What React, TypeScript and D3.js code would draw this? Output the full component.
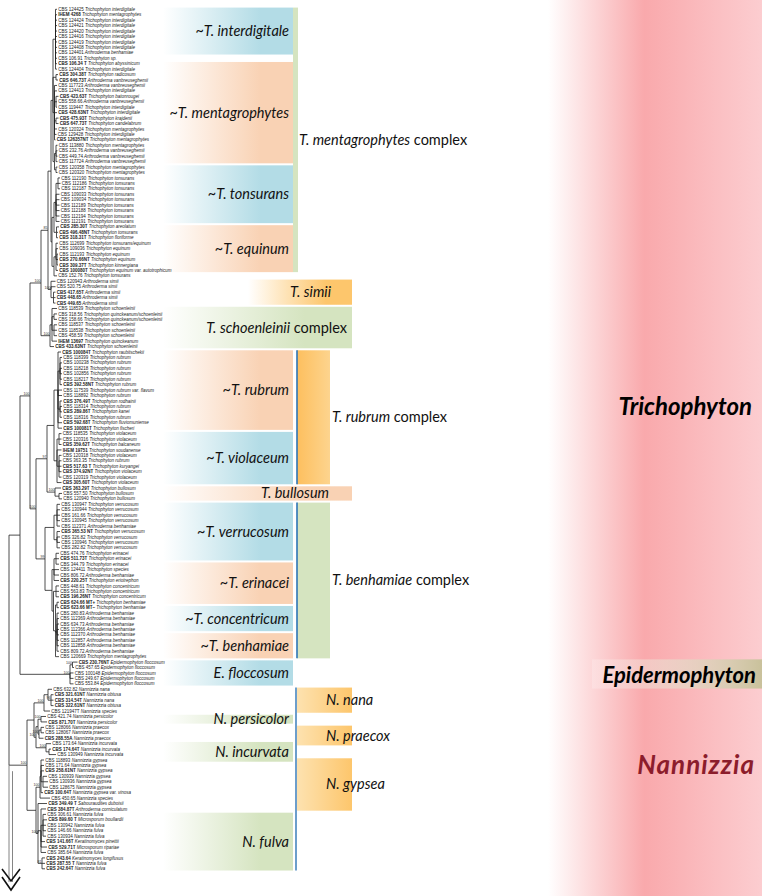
import React from "react";
import * as d3 from "d3";

// ---------- DATA ----------
// leaf: [strain, species, type strain (bold)]
const leaves: [string, string, number][] = [
  ["CBS 124425", "Trichophyton interdigitale", 0],
  ["IHEM 4268", "Trichophyton mentagrophytes", 1],
  ["CBS 124424", "Trichophyton interdigitale", 0],
  ["CBS 124421", "Trichophyton interdigitale", 0],
  ["CBS 124420", "Trichophyton interdigitale", 0],
  ["CBS 124416", "Trichophyton interdigitale", 0],
  ["CBS 124419", "Trichophyton interdigitale", 0],
  ["CBS 124408", "Trichophyton interdigitale", 0],
  ["CBS 124401", "Arthroderma benhamiae", 0],
  ["CBS 106.91", "Trichophyton sp.", 0],
  ["CBS 106.34 T", "Trichophyton abyssinicum", 1],
  ["CBS 124404", "Trichophyton interdigitale", 0],
  ["CBS 304.38T", "Trichophyton radicosum", 1],
  ["CBS 646.73T", "Arthroderma vanbreuseghemii", 1],
  ["CBS 117723", "Arthroderma vanbreuseghemii", 0],
  ["CBS 124413", "Trichophyton interdigitale", 0],
  ["CBS 423.63T", "Trichophyton batonrougei", 1],
  ["CBS 558.66", "Arthroderma vanbreuseghemii", 0],
  ["CBS 119447", "Trichophyton interdigitale", 0],
  ["CBS 428.63NT", "Trichophyton interdigitale", 1],
  ["CBS 475.93T", "Trichophyton krajdenii", 1],
  ["CBS 647.73T", "Trichophyton candelabrum", 1],
  ["CBS 120324", "Trichophyton mentagrophytes", 0],
  ["CBS 129428", "Trichophyton interdigitale", 0],
  ["CBS 126357NT", "Trichophyton mentagrophytes", 1],
  ["CBS 113880", "Trichophyton mentagrophytes", 0],
  ["CBS 232.76", "Arthroderma vanbreuseghemii", 0],
  ["CBS 449.74", "Arthroderma vanbreuseghemii", 0],
  ["CBS 117724", "Arthroderma vanbreuseghemii", 0],
  ["CBS 120358", "Trichophyton mentagrophytes", 0],
  ["CBS 120320", "Trichophyton mentagrophytes", 0],
  ["CBS 112190", "Trichophyton tonsurans", 0],
  ["CBS 112186", "Trichophyton tonsurans", 0],
  ["CBS 112187", "Trichophyton tonsurans", 0],
  ["CBS 109033", "Trichophyton tonsurans", 0],
  ["CBS 109034", "Trichophyton tonsurans", 0],
  ["CBS 112189", "Trichophyton tonsurans", 0],
  ["CBS 112188", "Trichophyton tonsurans", 0],
  ["CBS 112194", "Trichophyton tonsurans", 0],
  ["CBS 112191", "Trichophyton tonsurans", 0],
  ["CBS 285.30T", "Trichophyton areolatum", 1],
  ["CBS 496.48NT", "Trichophyton tonsurans", 1],
  ["CBS 318.31T", "Trichophyton floriforme", 1],
  ["CBS 112699", "Trichophyton tonsurans/equinum", 0],
  ["CBS 109036", "Trichophyton equinum", 0],
  ["CBS 112193", "Trichophyton equinum", 0],
  ["CBS 270.66NT", "Trichophyton equinum", 1],
  ["CBS 309.37T", "Trichophyton kinnergiana", 1],
  ["CBS 100080T", "Trichophyton equinum var. autotrophicum", 1],
  ["CBS 152.76", "Trichophyton tonsurans", 0],
  ["CBS 120943", "Arthroderma simii", 0],
  ["CBS 520.75", "Arthroderma simii", 0],
  ["CBS 417.65T", "Arthroderma simii", 1],
  ["CBS 448.65", "Arthroderma simii", 1],
  ["CBS 449.65", "Arthroderma simii", 1],
  ["CBS 118539", "Trichophyton schoenleinii", 0],
  ["CBS 318.56", "Trichophyton quinckeanum/schoenleinii", 0],
  ["CBS 158.66", "Trichophyton quinckeanum/schoenleinii", 0],
  ["CBS 118537", "Trichophyton schoenleinii", 0],
  ["CBS 118538", "Trichophyton schoenleinii", 0],
  ["CBS 458.59", "Trichophyton schoenleinii", 0],
  ["IHEM 13697", "Trichophyton quinckeanum", 1],
  ["CBS 433.63NT", "Trichophyton schoenleinii", 1],
  ["CBS 100084T", "Trichophyton raubitschekii", 1],
  ["CBS 118399", "Trichophyton rubrum", 0],
  ["CBS 100238", "Trichophyton rubrum", 0],
  ["CBS 118218", "Trichophyton rubrum", 0],
  ["CBS 102856", "Trichophyton rubrum", 0],
  ["CBS 118217", "Trichophyton rubrum", 0],
  ["CBS 392.58NT", "Trichophyton rubrum", 1],
  ["CBS 117539", "Trichophyton rubrum var. flavum", 0],
  ["CBS 118892", "Trichophyton rubrum", 0],
  ["CBS 376.49T", "Trichophyton rodhainii", 1],
  ["CBS 118314", "Trichophyton rubrum", 0],
  ["CBS 289.86T", "Trichophyton kanei", 1],
  ["CBS 118316", "Trichophyton rubrum", 0],
  ["CBS 592.68T", "Trichophyton fluviomuniense", 1],
  ["CBS 100081T", "Trichophyton fischeri", 1],
  ["CBS 118535", "Trichophyton violaceum", 0],
  ["CBS 120316", "Trichophyton violaceum", 0],
  ["CBS 359.62T", "Trichophyton balcaneum", 1],
  ["IHEM 19751", "Trichophyton soudanense", 1],
  ["CBS 120318", "Trichophyton violaceum", 0],
  ["CBS 363.35", "Trichophyton rubrum", 0],
  ["CBS 517.63 T", "Trichophyton kuryangei", 1],
  ["CBS 374.92NT", "Trichophyton violaceum", 1],
  ["CBS 120319", "Trichophyton violaceum", 0],
  ["CBS 305.60T", "Trichophyton violaceum", 1],
  ["CBS 363.29T", "Trichophyton bullosum", 1],
  ["CBS 557.50", "Trichophyton bullosum", 0],
  ["CBS 120940", "Trichophyton bullosum", 0],
  ["CBS 130947", "Trichophyton verrucosum", 0],
  ["CBS 130944", "Trichophyton verrucosum", 0],
  ["CBS 161.66", "Trichophyton verrucosum", 0],
  ["CBS 130945", "Trichophyton verrucosum", 0],
  ["CBS 112371", "Arthroderma benhamiae", 0],
  ["CBS 365.53 NT", "Trichophyton verrucosum", 1],
  ["CBS 326.82", "Trichophyton verrucosum", 0],
  ["CBS 130946", "Trichophyton verrucosum", 0],
  ["CBS 282.82", "Trichophyton verrucosum", 0],
  ["CBS 474.76", "Trichophyton erinacei", 0],
  ["CBS 511.73T", "Trichophyton erinacei", 1],
  ["CBS 344.79", "Trichophyton erinacei", 0],
  ["CBS 124411", "Trichophyton species", 0],
  ["CBS 806.72", "Arthroderma benhamiae", 0],
  ["CBS 220.25T", "Trichophyton eriotrephon", 1],
  ["CBS 448.61", "Trichophyton concentricum", 0],
  ["CBS 563.83", "Trichophyton concentricum", 0],
  ["CBS 196.26NT", "Trichophyton concentricum", 1],
  ["CBS 624.66 MT+", "Trichophyton benhamiae", 1],
  ["CBS 623.66 MT\u2013", "Trichophyton benhamiae", 1],
  ["CBS 280.83", "Arthroderma benhamiae", 0],
  ["CBS 112369", "Arthroderma benhamiae", 0],
  ["CBS 634.73", "Arthroderma benhamiae", 0],
  ["CBS 112366", "Arthroderma benhamiae", 0],
  ["CBS 112370", "Arthroderma benhamiae", 0],
  ["CBS 112857", "Arthroderma benhamiae", 0],
  ["CBS 112858", "Arthroderma benhamiae", 0],
  ["CBS 809.72", "Arthroderma benhamiae", 0],
  ["CBS 120669", "Trichophyton mentagrophytes", 0],
  ["CBS 230.76NT", "Epidermophyton floccosum", 1],
  ["CBS 457.65", "Epidermophyton floccosum", 0],
  ["CBS 100148", "Epidermophyton floccosum", 0],
  ["CBS 249.67", "Epidermophyton floccosum", 0],
  ["CBS 553.84", "Epidermophyton floccosum", 0],
  ["CBS 632.82", "Nannizzia nana", 0],
  ["CBS 321.61NT", "Nannizzia obtusa", 1],
  ["CBS 314.54T", "Nannizzia nana", 1],
  ["CBS 322.61NT", "Nannizzia obtusa", 1],
  ["CBS 121947T", "Nannizzia species", 0],
  ["CBS 421.74", "Nannizzia persicolor", 0],
  ["CBS 871.70T", "Nannizzia persicolor", 1],
  ["CBS 128066", "Nannizzia praecox", 0],
  ["CBS 128067", "Nannizzia praecox", 0],
  ["CBS 288.55A", "Nannizzia praecox", 1],
  ["CBS 173.64", "Nannizzia incurvata", 0],
  ["CBS 174.64T", "Nannizzia incurvata", 1],
  ["CBS 130949", "Nannizzia incurvata", 0],
  ["CBS 118893", "Nannizzia gypsea", 0],
  ["CBS 171.64", "Nannizzia gypsea", 0],
  ["CBS 258.61NT", "Nannizzia gypsea", 1],
  ["CBS 130939", "Nannizzia gypsea", 0],
  ["CBS 130936", "Nannizzia gypsea", 0],
  ["CBS 128675", "Nannizzia gypsea", 0],
  ["CBS 100.64T", "Nannizzia gypsea var. vinosa", 1],
  ["CBS 450.65", "Nannizzia species", 0],
  ["CBS 349.49 T", "Sabouraudites duboisii", 1],
  ["CBS 384.87T", "Arthroderma corniculatum", 1],
  ["CBS 306.61", "Nannizzia fulva", 0],
  ["CBS 899.60 T", "Microsporum boullardii", 1],
  ["CBS 130942", "Nannizzia fulva", 0],
  ["CBS 146.66", "Nannizzia fulva", 0],
  ["CBS 130934", "Nannizzia fulva", 0],
  ["CBS 141.66T", "Keratinomyces pinettii", 1],
  ["CBS 529.71T", "Microsporum ripariae", 1],
  ["CBS 385.64", "Nannizzia fulva", 0],
  ["CBS 243.64", "Keratinomyces longifusus", 1],
  ["CBS 287.55 T", "Nannizzia fulva", 1],
  ["CBS 242.64T", "Nannizzia fulva", 1],
];

// tip depth (distance from root) of every leaf
const tipDepth: number[] = [
  48, 48, 48, 48, 48, 48, 48, 48, 48, 48, 48, 48,
  49, 49,
  48, 48, 49.5, 48, 48, 48, 49.5, 49.5, 48, 47.5, 46.5,
  48.5, 48.5, 48.5, 48.5, 48.5, 48.5,
  51, 51.5, 51, 50.5, 50.5, 50.5, 50.5, 50.5, 50.5,
  50, 49, 49,
  49, 49, 49, 49, 49, 49, 48,
  46.5, 46.5, 46.5, 46.5, 46.5,
  48, 48, 48, 48, 48, 48, 48, 45,
  52, 53, 53, 53, 53, 53, 53, 53, 53, 53, 53, 53, 53, 53, 53,
  52.5, 52.5, 52.5, 52.5, 52.5, 52.5, 52.5, 52.5, 52.5, 52.5,
  52, 53, 53,
  51, 51, 51, 51, 51, 51, 51, 51, 51,
  50, 50, 50, 50, 50, 50,
  50, 50, 50,
  50, 50, 50, 50, 50, 50, 50, 50, 50, 50, 50,
  68.5, 65, 64.5, 64.5, 64.5,
  43, 44.5, 44.5, 44.5, 41,
  37, 38,
  35, 35, 34.5,
  42, 42, 47,
  35, 35, 35, 38, 39, 39, 34, 41,
  38, 37, 37, 38, 37, 37, 37, 36, 38, 37, 36, 36, 36,
];

// internal nodes: [first leaf, last leaf, depth, bootstrap]
const clades: [number, number, number, string][] = [
  [0, 158, 0, ""],
  [0, 124, 11, ""],
  [0, 119, 21, "100"],
  [0, 62, 32, "100"],
  [0, 54, 39, "85"],
  [0, 49, 42, ""],
  [0, 30, 44, ""],
  [0, 11, 46.5, ""],
  [12, 13, 47, ""],
  [14, 24, 45.5, ""],
  [16, 18, 47, ""],
  [20, 21, 47, ""],
  [25, 30, 45.5, ""],
  [25, 28, 47, ""],
  [29, 30, 47, ""],
  [31, 49, 43, ""],
  [31, 42, 45, ""],
  [31, 39, 47, ""],
  [31, 33, 49, ""],
  [40, 42, 47.5, ""],
  [43, 49, 45, ""],
  [43, 48, 47, ""],
  [45, 47, 48, ""],
  [50, 54, 42, "100"],
  [52, 54, 44.5, ""],
  [55, 62, 41, "100"],
  [55, 61, 43, ""],
  [56, 57, 45, ""],
  [58, 60, 45, ""],
  [63, 119, 27, "100"],
  [63, 90, 38, "97"],
  [63, 87, 45, ""],
  [63, 77, 49, ""],
  [64, 69, 51, ""],
  [72, 75, 51, ""],
  [78, 87, 48, ""],
  [78, 80, 50, ""],
  [82, 86, 50, ""],
  [88, 90, 46, "100"],
  [89, 90, 50, ""],
  [91, 119, 36, "99"],
  [91, 99, 45, ""],
  [91, 95, 48, ""],
  [96, 99, 48, ""],
  [100, 119, 43, ""],
  [100, 105, 45, ""],
  [100, 102, 47, ""],
  [106, 119, 44.5, ""],
  [106, 108, 47, ""],
  [109, 119, 46.5, ""],
  [109, 110, 48, ""],
  [111, 118, 48, ""],
  [120, 124, 61, "100"],
  [120, 121, 63.5, "100"],
  [125, 158, 18, "100"],
  [125, 137, 25, ""],
  [125, 129, 35, "100"],
  [125, 128, 39, ""],
  [126, 128, 42, "96"],
  [130, 137, 27, "100"],
  [130, 134, 29, ""],
  [130, 131, 32, "100"],
  [132, 134, 30, "100"],
  [132, 133, 32, ""],
  [135, 137, 37, "100"],
  [136, 137, 40, ""],
  [138, 158, 27, ""],
  [138, 145, 31, "100"],
  [138, 144, 32, ""],
  [141, 143, 34, ""],
  [146, 158, 29, "100"],
  [147, 155, 32, ""],
  [148, 152, 34, ""],
  [156, 158, 33, "81"],
];

// clade annotation boxes: [label (| separates roman suffix), first row, last row, colour, column]
const subclades: [string, number, number, string, string][] = [
  ["~T. interdigitale", 0, 8, "blue", "inner"],
  ["~T. mentagrophytes", 10, 28, "peach", "inner"],
  ["~T. tonsurans", 29, 39, "blue", "inner"],
  ["~T. equinum", 40, 48, "peach", "inner"],
  ["T. simii", 50, 54, "orange", "short"],
  ["T. schoenleinii| complex", 55, 62, "green", "wide"],
  ["~T. rubrum", 63, 77, "peach", "inner"],
  ["~T. violaceum", 78, 87, "blue", "inner"],
  ["T. bullosum", 88, 90, "peach", "wideMid"],
  ["~T. verrucosum", 91, 101, "blue", "inner"],
  ["~T. erinacei", 102, 109, "peach", "inner"],
  ["~T. concentricum", 110, 114, "blue", "inner"],
  ["~T. benhamiae", 115, 119, "peach", "inner"],
  ["E. floccosum", 120, 124, "blue", "inner"],
  ["N. nana", 125, 129, "orange", "outer"],
  ["N. persicolor", 130, 131, "green", "inner"],
  ["N. praecox", 132, 135, "orange", "outer"],
  ["N. incurvata", 135, 138, "green", "inner"],
  ["N. gypsea", 138, 147, "orange", "outer"],
  ["N. fulva", 148, 158, "green", "inner"],
];

// species complexes: [label, first row, last row, colour, blue bar]
const complexes: [string, number, number, string, number][] = [
  ["T. mentagrophytes| complex", 0, 48, "green", 0],
  ["T. rubrum| complex", 63, 87, "orange", 1],
  ["T. benhamiae| complex", 91, 119, "green", 1],
];

const genera: [string, string][] = [
  ["Trichophyton", "#000000"],
  ["Epidermophyton", "#000000"],
  ["Nannizzia", "#8c1d2c"],
];

// ---------- STYLE ----------
const palette: Record<string, string> = {
  blue: "#b3dce6",
  peach: "#f9d2b4",
  orange: "#fdc66c",
  green: "#d5e4c0",
};
// [x0, x1, text x, anchor]
const columns: Record<string, [number, number, number, string]> = {
  inner: [163, 293, 289, "end"],
  wide: [163, 352, 347, "end"],
  short: [248, 352, 331, "end"],
  wideMid: [163, 352, 329, "end"],
  outer: [297, 352, 326, "start"],
};
const LABEL_FONT = "'Liberation Sans', Arial, sans-serif";
const ANNOT_FONT = "Lato, 'Open Sans', sans-serif";

type TNode = {
  start: number;
  end: number;
  depth: number;
  support: string;
  leaf?: number;
  children: TNode[];
  y?: number;
};

function buildTree(): TNode {
  const cl: TNode[] = clades.map(([s, e, d, sup]) => ({ start: s, end: e, depth: d, support: sup, children: [] }));
  cl.sort((a, b) => b.end - b.start - (a.end - a.start) || a.start - b.start);
  for (let i = 1; i < cl.length; i++) {
    let p: TNode | null = null;
    for (let j = 0; j < i; j++) if (cl[j].start <= cl[i].start && cl[j].end >= cl[i].end) p = cl[j];
    p!.children.push(cl[i]);
  }
  leaves.forEach((_, i) => {
    let p: TNode | null = null;
    for (const c of cl) if (c.start <= i && c.end >= i) p = c;
    p!.children.push({ start: i, end: i, depth: tipDepth[i], support: "", leaf: i, children: [] });
  });
  cl.forEach((c) => c.children.sort((a, b) => a.start - b.start));
  return cl[0];
}

function Label({ text, x, y, size, anchor }: { text: string; x: number; y: number; size: number; anchor: string }) {
  const [it, rom] = text.split("|");
  return (
    <text x={x} y={y} fontSize={size} textAnchor={anchor as any} fontFamily={ANNOT_FONT} fill="#111">
      <tspan fontStyle="italic">{it}</tspan>
      {rom ? <tspan>{rom}</tspan> : null}
    </text>
  );
}

export default function App() {
  const W = 762;
  const H = 896;
  const yS = d3.scaleLinear().domain([0, leaves.length - 1]).range([9.3, 868.8]);
  const xS = d3.scaleLinear().domain([0, 71]).range([9, 80]);
  const step = yS(1) - yS(0);

  const root = d3.hierarchy<TNode>(buildTree(), (d) => d.children);
  root.eachAfter((n) => {
    if (n.data.leaf !== undefined) n.data.y = yS(n.data.leaf);
    else {
      const ch = n.children!;
      n.data.y = (ch[0].data.y! + ch[ch.length - 1].data.y!) / 2;
    }
  });

  const links = root.links();
  const elbow = (l: d3.HierarchyLink<TNode>) => {
    const p = d3.path();
    p.moveTo(xS(l.source.data.depth), l.source.data.y!);
    p.lineTo(xS(l.source.data.depth), l.target.data.y!);
    p.lineTo(xS(l.target.data.depth), l.target.data.y!);
    return p.toString();
  };

  const nanNode = root.descendants().find((n) => n.data.start === 125 && n.data.end === 158 && n.data.leaf === undefined)!;
  const boxTop = (s: number) => yS(s) - step / 2 + 1;
  const boxBot = (e: number) => yS(e) + step / 2 - 1;

  return (
    <svg width={W} height={H} style={{ display: "block", position: "absolute", left: 0, top: 0 }}>
      <defs>
        {Object.entries(palette).map(([k, c]) => (
          <linearGradient key={k} id={`g-${k}`} x1="0" x2="1" y1="0" y2="0">
            <stop offset="0" stopColor="#ffffff" />
            <stop offset="0.75" stopColor={c} />
            <stop offset="1" stopColor={c} />
          </linearGradient>
        ))}
        <linearGradient id="g-out" x1="0" x2="1" y1="0" y2="0">
          <stop offset="0" stopColor="#fde2b0" />
          <stop offset="1" stopColor="#fdc66c" />
        </linearGradient>
        <linearGradient id="g-red" x1="0" x2="1" y1="0" y2="0">
          <stop offset="0" stopColor="#ffffff" />
          <stop offset="0.45" stopColor="#f9a9ac" />
          <stop offset="1" stopColor="#fccdd0" />
        </linearGradient>
        <linearGradient id="g-khaki" x1="0" x2="1" y1="0" y2="0">
          <stop offset="0" stopColor="#ffffff" stopOpacity="0.2" />
          <stop offset="1" stopColor="#c9c19b" />
        </linearGradient>
        <linearGradient id="g-rub" x1="0" x2="1" y1="0" y2="0">
          <stop offset="0" stopColor="#fdbf5e" />
          <stop offset="1" stopColor="#fdd48e" />
        </linearGradient>
      </defs>
      <rect width={W} height={H} fill="#fff" />

      {/* genus band */}
      <rect x={548} y={0} width={W - 548} height={H} fill="url(#g-red)" />
      <rect x={592} y={boxTop(120) - 1} width={W - 592} height={boxBot(124) - boxTop(120) + 4} fill="url(#g-khaki)" />

      {/* complexes */}
      {complexes.map(([name, s, e, col, bar], i) => {
        const top = boxTop(s);
        const bot = boxBot(e);
        return (
          <g key={name}>
            {i === 0 ? (
              <rect x={293} y={top} width={5} height={bot - top} fill={palette[col]} />
            ) : (
              <rect x={297} y={top} width={33} height={bot - top} fill={col === "orange" ? "url(#g-rub)" : palette[col]} />
            )}
            {bar ? <line x1={297} x2={297} y1={top} y2={bot} stroke="#2e75b6" strokeWidth={1.6} /> : null}
            <Label text={name} x={i === 0 ? 299 : 332} y={(top + bot) / 2 + 5} size={14.5} anchor="start" />
          </g>
        );
      })}

      {/* subclade boxes */}
      {subclades.map(([name, s, e, col, colm]) => {
        const [x0, x1, tx, anchor] = columns[colm];
        const top = boxTop(s);
        const bot = boxBot(e);
        return (
          <g key={name}>
            <rect x={x0} y={top} width={x1 - x0} height={bot - top} fill={colm === "outer" ? "url(#g-out)" : `url(#g-${col})`} />
            <Label text={name} x={tx} y={(top + bot) / 2 + 5} size={14.5} anchor={anchor} />
          </g>
        );
      })}
      <line x1={296} x2={296} y1={boxTop(125)} y2={boxBot(158)} stroke="#2e75b6" strokeWidth={1.4} />

      {/* genus names */}
      {genera.map(([g, c], i) => (
        <text
          key={g}
          x={[752, 756, 755][i]}
          y={[415, 683, 774][i]}
          textAnchor="end"
          fontFamily={ANNOT_FONT}
          fontWeight="bold"
          fontStyle="italic"
          fontSize={[24, 22, 26][i]}
          letterSpacing={i === 2 ? 1 : 0}
          fill={c}
        >
          {g}
        </text>
      ))}

      {/* tree */}
      <g fill="none" stroke="#222" strokeWidth={0.8}>
        {links.map((l, i) => (
          <path key={i} d={elbow(l)} />
        ))}
      </g>
      {/* root continues to outgroup */}
      <g stroke="#777" strokeWidth={0.9} fill="none">
        <line x1={xS(0)} x2={xS(0)} y1={nanNode.data.y!} y2={882} />
        <line x1={xS(3.5)} x2={xS(3.5)} y1={nanNode.data.y! + 6} y2={882} />
      </g>
      <g stroke="#111" strokeWidth={1.6} fill="none">
        <path d="M2,869 L11,881 L20,869" />
        <path d="M2,877 L11,890 L20,877" />
      </g>
      {/* bootstrap values */}
      <g fontFamily={LABEL_FONT} fontSize={3.6} fill="#333">
        {root
          .descendants()
          .filter((n) => n.data.support && n.depth > 0)
          .map((n, i) => (
            <text key={i} x={xS(n.data.depth) - 0.6} y={n.data.y! - 0.8} textAnchor="end">
              {n.data.support}
            </text>
          ))}
      </g>

      {/* leaf labels */}
      <g fontFamily={LABEL_FONT} fontSize={4.5} fill="#1a1a1a">
        {leaves.map(([strain, sp, t], i) => (
          <text key={i} x={xS(tipDepth[i]) + 1.2} y={yS(i) + 1.6}>
            <tspan fontWeight={t ? "bold" : "normal"}>{strain}</tspan>
            <tspan fontStyle="italic"> {sp}</tspan>
          </text>
        ))}
      </g>
    </svg>
  );
}
